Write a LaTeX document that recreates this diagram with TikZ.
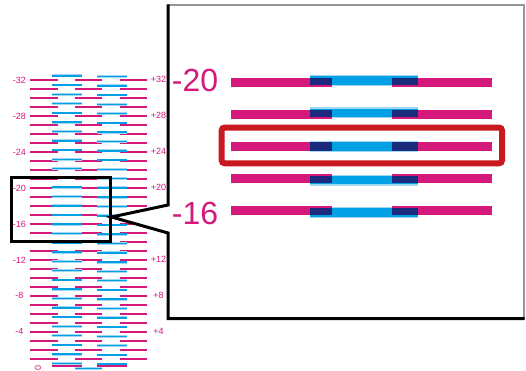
\documentclass[tikz,border=0pt]{standalone}
\usepackage{fontspec}
\setmainfont{Liberation Sans}
\definecolor{mag}{RGB}{213,24,123}
\definecolor{cy}{RGB}{0,160,228}
\definecolor{cyl}{RGB}{160,215,242}
\definecolor{navy}{RGB}{27,42,122}
\definecolor{boxred}{RGB}{200,25,30}
\definecolor{grayb}{RGB}{150,150,150}
\begin{document}
\begin{tikzpicture}[x=1pt,y=-1pt,
  magline/.style={draw=mag,line width=1.9pt},
  blueline/.style={draw=cy,line width=1.6pt},
  haloline/.style={draw=cyl,line width=2.8pt},
  smalllab/.style={text=mag,font=\fontsize{9}{9}\selectfont,inner sep=0pt,anchor=base},
  biglab/.style={text=mag,font=\fontsize{32}{32}\selectfont,inner sep=0pt,anchor=base}]
\useasboundingbox (0,0) rectangle (526,370);
\fill[white] (0,0) rectangle (526,370);
% vernier scale
\foreach \k in {-32,...,-1}{
  \pgfmathsetmacro\yy{358.7+8.99*(\k+1)}
  \pgfmathsetmacro\yl{\yy+0.29*(\k+17.5)}
  \pgfmathsetmacro\yr{\yy+0.29*(\k+20)}
  \draw[magline] (30,\yy) -- (58,\yy) (75,\yy) -- (102,\yy) (120,\yy) -- (147,\yy);
  \draw[haloline] (52,\yl) -- (82,\yl) (97,\yr) -- (127,\yr);
  \draw[blueline] (52,\yl) -- (82,\yl) (97,\yr) -- (127,\yr);
}
\draw[magline] (52.3,366) -- (81.7,366) (96.7,366) -- (126.7,366);
\draw[haloline] (75,368.3) -- (102.3,368.3);
\draw[blueline] (75,368.3) -- (102.3,368.3);
% zoom box
\draw[line width=3pt] (11,177) rectangle (110,241);
% labels
\foreach \n in {32,28,24,20,16,12,8,4}{
  \pgfmathsetmacro\yy{358.7+8.99*(1-\n)}
  \node[smalllab] (L\n) at (19.5,\yy+3.2) {-\n};
}
\foreach \n in {32,28,24,20,12,8,4}{
  \pgfmathsetmacro\yy{358.7+8.99*(1-\n)}
  \node[smalllab] (R\n) at (158.5,\yy+2.4) {+\n};
}
\node[text=mag,font=\fontsize{9}{9}\selectfont,inner sep=0pt,rotate=90] (L0) at (38,367.5) {0};
% detail panel
\fill[white] (168,5) -- (168,205) -- (111.5,217) -- (168,233) -- (168,318.5) -- (524,318.5) -- (524,5) -- cycle;
\draw[grayb,line width=1.4pt] (168,5) -- (524,5) -- (524,318.5);
\draw[black,line width=3pt,line join=miter] (168,4.3) -- (168,205) -- (111.5,217) -- (168,233) -- (168,318.5) -- (524.7,318.5);
\foreach \i/\off in {0/-2.2,1/-1.6,2/0,3/1.6,4/2}{
  \pgfmathsetmacro\yc{82.5+32*\i}
  \pgfmathsetmacro\bt{\yc+\off-4.25}
  \pgfmathsetmacro\bb{\yc+\off+4.25}
  \pgfmathsetmacro\nt{max(\yc-4.25,\bt)}
  \pgfmathsetmacro\nb{min(\yc+4.25,\bb)}
  \fill[cyl] (310,\bt-1.3) rectangle (418,\bb+1.3);
  \fill[mag] (231,\yc-4.25) rectangle (332,\yc+4.25);
  \fill[mag] (392,\yc-4.25) rectangle (492,\yc+4.25);
  \fill[cy] (310,\bt) rectangle (418,\bb);
  \fill[navy] (310,\nt) rectangle (332,\nb);
  \fill[navy] (392,\nt) rectangle (418,\nb);
}
\draw[boxred,line width=6pt,rounded corners=3pt] (221.7,127.5) rectangle (502,163.3);
\node[biglab] (D20) at (195,91.5) {-20};
\node[biglab] (D16) at (195,224) {-16};
\end{tikzpicture}
\end{document}
